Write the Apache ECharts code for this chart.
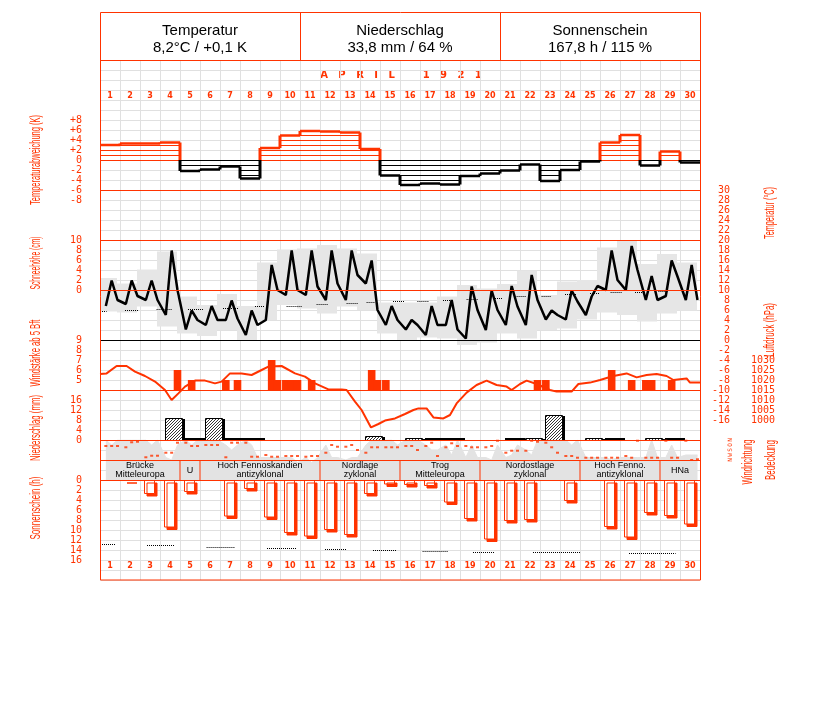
<!DOCTYPE html>
<html>
<head>
<meta charset="utf-8">
<title>April 1921</title>
<script src="https://cdn.jsdelivr.net/npm/echarts@6.0.0/dist/echarts.min.js"></script>
<style>
html,body{margin:0;padding:0;background:#fff;}
#chart{width:827px;height:702px;}
</style>
</head>
<body>
<div id="chart"></div>
<script>
const RED = '#ff3300';
const GRIDC = '#e0e0e0';

// ---------- data ----------
const days = ['1','2','3','4','5','6','7','8','9','10','11','12','13','14','15','16','17','18','19','20','21','22','23','24','25','26','27','28','29','30'];
const obsHours = [7, 14, 21];
const headerTitles = ['Temperatur', 'Niederschlag', 'Sonnenschein'];
const headerValues = ['8,2°C / +0,1 K', '33,8 mm / 64 %', '167,8 h / 115 %'];
const monthTitle = 'APRIL 1921';
const dirLabels = ['N', 'O', 'S', 'W', 'N'];

// Temperaturabweichung (K) per day
const tempDev = [3.0, 3.3, 3.3, 3.5, -2.2, -1.9, -1.3, -3.7, 2.4, 4.9, 5.8, 5.7, 5.5, 2.2, -3.1, -5.0, -4.7, -4.9, -3.2, -2.7, -2.1, -0.9, -4.2, -2.0, -0.3, 3.5, 5.0, -1.1, 1.7, -0.5];

// Temperatur (°C) at 7, 14, 21 h
const temp7  = [6.8, 7.2, 8.0, 5.0, 2.1, 3.0, 4.0, 1.0, 4.0, 9.0, 9.0, 8.0, 8.0, 11.3, 3.0, 2.1, 1.0, 3.0, 0.3, 2.0, 3.0, 3.0, 4.1, 4.1, 5.0, 10.0, 10.0, 8.0, 8.8, 8.0];
const temp14 = [11.9, 11.9, 11.9, 17.9, 5.9, 6.8, 7.9, 5.9, 15.0, 17.9, 17.9, 17.9, 17.9, 15.9, 6.8, 4.0, 6.8, 8.0, 10.7, 9.9, 10.8, 13.0, 5.9, 9.9, 8.7, 17.9, 18.8, 12.8, 15.9, 15.0];
const temp21 = [8.0, 8.8, 8.0, 10.0, 4.0, 4.0, 4.3, 3.0, 10.0, 10.0, 10.7, 11.3, 13.0, 6.0, 4.0, 3.0, 3.0, 2.1, 6.0, 6.0, 6.7, 8.0, 5.0, 7.7, 10.8, 12.0, 14.0, 8.0, 12.7, 8.0];
// daily max / min
const tempMax = [12.4, 11.3, 14.1, 17.7, 8.7, 7.0, 9.2, 6.8, 15.5, 18.1, 18.3, 19.0, 18.3, 17.3, 7.5, 7.5, 7.5, 8.7, 11.0, 10.3, 11.2, 13.9, 9.0, 11.7, 12.0, 18.5, 19.9, 15.2, 17.2, 15.5];
const tempMin = [5.7, 5.5, 6.7, 2.7, 1.3, 0.8, 2.0, 0.0, 4.0, 7.0, 6.3, 5.3, 6.7, 6.0, 1.3, -0.2, 0.5, 0.3, -1.0, -0.5, 1.3, 0.3, 2.0, 2.3, 4.1, 5.5, 5.0, 3.7, 5.3, 5.9];
// climatological mean (dotted segments): [fromDay, toDay, °C]
const tempClim = [[0, 0.33, 5.8], [1.25, 1.92, 6.0], [2.83, 3.58, 6.2], [4.4, 5.15, 6.3], [6.15, 6.9, 6.5], [7.75, 8.25, 6.8], [9.33, 10.08, 6.9], [10.83, 11.42, 7.2], [12.33, 12.92, 7.4], [13.33, 13.75, 7.7], [14.65, 15.2, 7.8], [15.87, 16.42, 7.9], [17.15, 17.65, 8.1], [18.33, 18.92, 8.3], [19.65, 20.15, 8.5], [20.83, 21.33, 8.8], [22.08, 22.58, 8.9], [23.25, 23.83, 9.2], [24.5, 25.0, 9.5], [25.53, 26.08, 9.6], [26.75, 27.15, 9.7], [27.92, 28.42, 9.9], [29.33, 29.75, 10.1]];

// Windstärke ab 5 Bft: [day, hour, Bft]
const windBft = [[4,21,6],[5,14,5],[7,7,5],[7,21,5],[9,14,7],[9,21,5],[10,7,5],[10,14,5],[10,21,5],[11,14,5],[14,14,6],[14,21,5],[15,7,5],[22,21,5],[23,7,5],[26,14,6],[27,14,5],[28,7,5],[28,14,5],[29,14,5]];

// Luftdruck (hPa): [day position, hPa]
const pressure = [[0,1023],[0.33,1023.3],[0.83,1027],[1.33,1027],[1.75,1024.2],[2.25,1022],[2.75,1019.2],[3.25,1015],[3.58,1010],[3.92,1013.3],[4.25,1016.7],[4.75,1019.7],[5.25,1019.7],[5.75,1018.3],[6.08,1019.2],[6.5,1023.3],[7.08,1023.3],[7.58,1022.5],[8.08,1025],[8.42,1026.7],[9.08,1027],[9.75,1023.3],[10.25,1021.7],[10.75,1018.3],[11.42,1015.3],[12.08,1015.3],[12.33,1015],[12.75,1009.2],[13.08,1005],[13.55,996.3],[13.92,998],[14.25,999.7],[14.75,1000.8],[15.25,1003],[15.67,1005],[15.92,1005.8],[16.33,1005.8],[16.67,1001.3],[17.17,1000.8],[17.5,1002.5],[17.83,1008.3],[18.33,1013.7],[18.83,1017.5],[19.33,1019.7],[19.83,1017.5],[20.33,1016.7],[20.58,1015],[21,1018],[21.33,1019.7],[21.83,1018],[22.5,1015],[22.83,1014.2],[23.58,1014.2],[23.92,1018],[24.5,1018.7],[25,1020],[25.67,1022],[26.33,1023.3],[26.83,1021.3],[27.33,1022.5],[27.83,1023],[28.33,1022],[28.67,1020],[29.33,1020.8],[29.5,1018.7],[30,1018.7]];

// Niederschlag (mm) per day, and days with trace only
const precip = [0, 0, 0, 9.0, 0, 9.0, 0, 0, 0, 0, 0, 0, 0, 1.6, 0, 1.0, 0, 0, 0, 0, 0, 1.0, 10.2, 0, 1.0, 0, 0, 1.0, 0, 0];
const precipTrace = [5, 6, 7, 8, 17, 18, 21, 26, 29];

// Windrichtung (degrees) at 7, 14, 21 h
const windDir7  = [108,131,311,229,49,90,311,49,270,288,301,229,121,229,131,108,108,131,108,131,229,193,49,288,319,319,288,319,13,13];
const windDir14 = [108,41,283,229,108,90,49,301,301,288,288,90,90,131,131,108,49,59,131,108,193,13,131,288,319,319,319,319,319,360];
const windDir21 = [108,31,283,49,108,90,49,301,301,288,288,121,180,131,131,180,288,108,131,13,193,31,229,319,319,319,13,319,319,347];

// Bedeckung (eighths) at 7, 14, 21 h
const cloud7  = [8, 8, 8, 4.5, 8, 8, 7, 8, 4.5, 4.5, 4.5, 7, 4, 7, 8, 8, 7, 7, 4.5, 4.5, 4.5, 6, 8, 8, 4.5, 4.5, 4.5, 4.5, 4.5, 5];
const cloud14 = [7, 8, 7, 4, 7, 8, 6, 7, 4.5, 4.5, 3.5, 4.5, 4.5, 8, 8, 8, 6, 5, 7, 4, 5, 5, 8, 7, 4.5, 4, 4.5, 8, 7, 5];
const cloud21 = [8, 8, 8, 7, 8, 8, 7, 4.5, 4.5, 3.5, 4.5, 4.5, 4.5, 8, 7, 8, 6, 8, 4.5, 7, 7, 8, 8, 8, 4.5, 4.5, 4.5, 4.5, 4.5, 5];

// Großwetterlagen: [fromDay, toDay, label]
const weatherTypes = [[0,4,'Brücke\nMitteleuropa'],[4,5,'U'],[5,11,'Hoch Fennoskandien\nantizyklonal'],[11,15,'Nordlage\nzyklonal'],[15,19,'Trog\nMitteleuropa'],[19,24,'Nordostlage\nzyklonal'],[24,28,'Hoch Fenno.\nantizyklonal'],[28,30,'HNa']];

// Sonnenschein (h) per day and climatological segments
const sunshine = [0, 0.2, 2.8, 9.5, 2.4, 0, 7.3, 1.8, 7.5, 10.6, 11.3, 10.0, 11.0, 2.8, 0.9, 1.0, 1.2, 4.5, 7.8, 11.9, 8.2, 8.0, 0, 4.2, 0, 9.4, 11.5, 6.6, 7.2, 8.9];
const sunClim = [[0, 0.79, 12.8], [2.35, 3.75, 13.0], [5.33, 6.75, 13.3], [8.35, 9.8, 13.5], [11.25, 12.35, 13.7], [13.65, 14.85, 13.9], [16.13, 17.38, 14.1], [18.65, 19.75, 14.3], [21.65, 24.0, 14.4], [26.45, 28.78, 14.6]];

// ---------- helpers ----------
function byObs(a7, a14, a21) {
  const out = [];
  for (let i = 0; i < a7.length; i++) {
    out.push([i + obsHours[0] / 24, a7[i]], [i + obsHours[1] / 24, a14[i]], [i + obsHours[2] / 24, a21[i]]);
  }
  return out;
}
function measure(text, font) {
  const c = document.createElement('canvas').getContext('2d');
  c.font = font;
  return c.measureText(text).width;
}
function vtext(text, cx, cy, len) {
  const font = '14px "Liberation Sans"';
  const w = measure(text, font);
  return {type: 'text', x: cx, y: cy, rotation: Math.PI / 2, scaleX: len / w, silent: true,
    style: {text: text, x: 0, y: 0, fill: RED, font: font, align: 'center', verticalAlign: 'middle', textAlign: 'center', textVerticalAlign: 'middle'}};
}
function htext(text, cx, cy, font, fill) {
  return {type: 'text', x: cx, y: cy, silent: true,
    style: {text: text, x: 0, y: 0, fill: fill, font: font, align: 'center', verticalAlign: 'middle', textAlign: 'center', textVerticalAlign: 'middle'}};
}
function hline(x1, y1, x2, y2) {
  return {type: 'line', silent: true, z: 100, shape: {x1: x1, y1: y1, x2: x2, y2: y2}, style: {stroke: RED, lineWidth: 1}};
}
function segItem(params, api) {
  const a = api.coord([api.value(0), api.value(2)]);
  const b = api.coord([api.value(1), api.value(2)]);
  const y = Math.round(a[1]) + 0.5;
  return {type: 'line', shape: {x1: a[0], y1: y, x2: b[0], y2: y}, style: {stroke: '#000', lineWidth: 1, lineDash: [1, 1]}};
}
const ruleStyle = {silent: true, symbol: ['none', 'none'], label: {show: false}, animation: false, emphasis: {disabled: true}};
function rules(list) {
  return Object.assign({}, ruleStyle, {data: list.map(r => ({yAxis: r[0], lineStyle: {color: r[1], type: 'solid', width: 1}}))});
}

// ---------- layout ----------
const gridDefs = [[60,520],[120,80],[190,230],[240,50],[340,50],[360,60],[400,40],[440,20],[440,40],[460,20],[480,80]];
const grid = gridDefs.map(g => ({left: 100, width: 600, top: g[0], height: g[1], containLabel: false, outerBoundsMode: 'none'}));

const xAxis = gridDefs.map((g, i) => ({
  type: 'value', gridIndex: i, min: 0, max: 30, interval: 1, show: i === 0,
  axisLine: {show: false, onZero: false}, axisTick: {show: false}, axisLabel: {show: false},
  splitLine: {show: i === 0, lineStyle: {color: GRIDC, width: 1}}
}));
function dayAxis(pos, off) {
  return {type: 'category', gridIndex: 0, data: days, position: pos, offset: off,
    axisLine: {show: false, onZero: false}, axisTick: {show: false}, splitLine: {show: false},
    axisLabel: {interval: 0, margin: 2, color: RED, fontSize: 8, fontWeight: 'bold', fontFamily: 'DejaVu Sans'}};
}
xAxis.push(dayAxis('top', -42), dayAxis('bottom', -20));

function yAx(gi, o) {
  return Object.assign({type: 'value', gridIndex: gi, axisLine: {show: false, onZero: false}, axisTick: {show: false},
    splitLine: {show: false}, axisLabel: {show: false}}, o);
}
function lab(extra) {
  return Object.assign({show: true, color: RED, fontFamily: 'DejaVu Sans Mono', fontSize: 10, showMinLabel: true, showMaxLabel: true,
    formatter: v => String(v)}, extra);
}
const yAxis = [
  yAx(0, {min: 0, max: 52, interval: 1, splitLine: {show: true, lineStyle: {color: GRIDC, width: 1}}}),
  yAx(1, {min: -8, max: 8, interval: 2, position: 'left', axisLabel: lab({margin: 18, formatter: v => v > 0 ? '+' + v : String(v)})}),
  yAx(2, {min: -16, max: 30, interval: 2, position: 'right', axisLabel: lab({margin: 30, align: 'right'})}),
  yAx(3, {min: 0, max: 10, interval: 2, position: 'left', axisLabel: lab({margin: 18})}),
  yAx(4, {min: 4, max: 9, interval: 1, position: 'left', axisLabel: lab({margin: 18, formatter: v => v === 4 ? '' : String(v)})}),
  yAx(5, {min: 1000, max: 1030, interval: 5, position: 'right', axisLabel: lab({margin: 75, align: 'right'})}),
  yAx(6, {min: 0, max: 16, interval: 4, position: 'left', axisLabel: lab({margin: 18})}),
  yAx(7, {min: 0, max: 360, interval: 90, inverse: true, position: 'right', axisLabel: lab({margin: 27, fontSize: 6, rotate: 90, formatter: v => dirLabels[Math.round(v / 90)]})}),
  yAx(8, {min: 0, max: 8, show: false}),
  yAx(9, {min: 0, max: 1, show: false}),
  yAx(10, {min: 0, max: 16, interval: 2, inverse: true, position: 'left', axisLabel: lab({margin: 18})})
];

// ---------- series ----------
const series = [];

// daily range (grey)
series.push({type: 'custom', xAxisIndex: 2, yAxisIndex: 2, silent: true, z: 1,
  data: tempMax.map((mx, i) => [i, tempMin[i], mx]), encode: {x: 0, y: [1, 2]},
  renderItem: function (params, api) {
    const i = api.value(0);
    const a = api.coord([i - 0.15, api.value(2)]);
    const b = api.coord([i + 0.85, api.value(1)]);
    const cs = params.coordSys;
    const xL = Math.max(a[0], cs.x), xR = Math.min(b[0], cs.x + cs.width);
    return {type: 'rect', shape: {x: xL, y: a[1], width: xR - xL, height: b[1] - a[1]}, style: {fill: '#e6e6e6'}};
  }});
// climatological temperature
series.push({type: 'custom', xAxisIndex: 2, yAxisIndex: 2, silent: true, z: 2, data: tempClim, encode: {x: [0, 1], y: 2}, renderItem: segItem});
// temperature curve
series.push({type: 'line', xAxisIndex: 2, yAxisIndex: 2, data: byObs(temp7, temp14, temp21), symbol: 'none', silent: true, z: 4,
  lineStyle: {color: '#000', width: 2.5}, markLine: rules([[30, RED], [20, RED], [10, RED], [0, '#000']])});

// temperature deviation
series.push({type: 'custom', xAxisIndex: 1, yAxisIndex: 1, silent: true, z: 3,
  data: tempDev.map((v, i) => [i, v]), encode: {x: 0, y: 1},
  renderItem: function (params, api) {
    const i = api.value(0), v = api.value(1);
    const children = [];
    const x0 = api.coord([i, 0])[0], x1 = api.coord([i + 1, 0])[0];
    const col = v >= 0 ? RED : '#000';
    const n = Math.floor(Math.abs(v));
    const s = v >= 0 ? 1 : -1;
    for (let k = 0; k <= n; k++) {
      const y = Math.round(api.coord([i, s * k])[1]) + 0.5;
      children.push({type: 'line', shape: {x1: x0, y1: y, x2: x1, y2: y}, style: {stroke: col, lineWidth: 1}});
    }
    const yv = api.coord([i, v])[1];
    children.push({type: 'line', shape: {x1: x0, y1: yv, x2: x1, y2: yv}, style: {stroke: col, lineWidth: 2.5}});
    if (i > 0) {
      const p = tempDev[i - 1];
      const yp = api.coord([i, p])[1];
      const y0 = api.coord([i, 0])[1];
      if (p * v < 0) {
        children.push({type: 'line', shape: {x1: x0, y1: yp, x2: x0, y2: y0}, style: {stroke: p > 0 ? RED : '#000', lineWidth: 3}});
        children.push({type: 'line', shape: {x1: x0, y1: y0, x2: x0, y2: yv}, style: {stroke: col, lineWidth: 3}});
      } else {
        children.push({type: 'line', shape: {x1: x0, y1: yp, x2: x0, y2: yv}, style: {stroke: col, lineWidth: 3}});
      }
    }
    return {type: 'group', children: children};
  }});

// cloud cover
series.push({type: 'line', xAxisIndex: 8, yAxisIndex: 8, data: byObs(cloud7, cloud14, cloud21), symbol: 'none', silent: true, z: 1,
  lineStyle: {color: '#e3e3e3', width: 1}, areaStyle: {color: '#e3e3e3', opacity: 1}, markLine: rules([[4, RED]])});
// wind direction
series.push({type: 'scatter', xAxisIndex: 7, yAxisIndex: 7, data: byObs(windDir7, windDir14, windDir21), symbol: 'rect', symbolSize: [3, 2],
  silent: true, z: 5, itemStyle: {color: RED}});

// wind force bars
series.push({type: 'custom', xAxisIndex: 4, yAxisIndex: 4, silent: true, z: 3,
  data: windBft.map(w => [w[0] - 1 + w[1] / 24, w[2]]), encode: {x: 0, y: 1},
  renderItem: function (params, api) {
    const x = api.value(0), b = api.value(1);
    const p1 = api.coord([x - 0.19, b]), p2 = api.coord([x + 0.19, 4]);
    return {type: 'rect', shape: {x: p1[0], y: p1[1], width: p2[0] - p1[0], height: p2[1] - p1[1]}, style: {fill: RED}};
  }});
// pressure
series.push({type: 'line', xAxisIndex: 5, yAxisIndex: 5, data: pressure, symbol: 'none', silent: true, clip: false, z: 4,
  lineStyle: {color: RED, width: 2}, markLine: rules([[1015, RED]])});

// precipitation (hatched bars with black shadow)
series.push({type: 'custom', xAxisIndex: 6, yAxisIndex: 6, silent: true, z: 3,
  data: precip.map((v, i) => [i, v]).filter(d => d[1] > 0), encode: {x: 0, y: 1},
  renderItem: function (params, api) {
    const i = api.value(0), v = api.value(1);
    const a = api.coord([i + 0.25, v]), b = api.coord([i + 1.1, 0]);
    const x0 = Math.round(a[0]), y0 = Math.round(a[1]), x1 = Math.round(b[0]), y1 = Math.round(b[1]);
    const children = [
      {type: 'rect', shape: {x: x0 + 3, y: y0 + 1, width: x1 - x0, height: y1 - y0 - 1}, style: {fill: '#000'}},
      {type: 'rect', shape: {x: x0 + 0.5, y: y0 + 0.5, width: x1 - x0, height: y1 - y0}, style: {fill: '#fff', stroke: '#000', lineWidth: 1}}
    ];
    for (let c = x0 + y0 + 3; c < x1 + y1; c += 3) {
      const xa = Math.max(x0 + 1, c - y1), xb = Math.min(x1, c - y0 - 1);
      if (xb > xa) children.push({type: 'line', shape: {x1: xa, y1: c - xa, x2: xb, y2: c - xb}, style: {stroke: '#000', lineWidth: 0.8}});
    }
    return {type: 'group', children: children};
  },
  markLine: rules([[0, RED]])});
series.push({type: 'custom', xAxisIndex: 6, yAxisIndex: 6, silent: true, z: 2,
  data: precipTrace.map(d => [d - 0.75, d + 0.25, 0]), encode: {x: [0, 1], y: 2},
  renderItem: function (params, api) {
    const a = api.coord([api.value(0), 0]), b = api.coord([api.value(1), 0]);
    return {type: 'line', shape: {x1: a[0], y1: a[1] - 1, x2: b[0], y2: b[1] - 1}, style: {stroke: '#000', lineWidth: 2}};
  }});

// weather types
series.push({type: 'custom', xAxisIndex: 9, yAxisIndex: 9, silent: true, z: 6,
  data: weatherTypes.map(w => [w[0], w[1]]), encode: {x: [0, 1]},
  renderItem: function (params, api) {
    const x0 = api.value(0), x1 = api.value(1);
    const a = api.coord([x0, 1]), b = api.coord([x1, 0]);
    const children = [{type: 'text', style: {text: weatherTypes[params.dataIndex][2], x: (a[0] + b[0]) / 2, y: (a[1] + b[1]) / 2 + 0.5,
      align: 'center', verticalAlign: 'middle', textAlign: 'center', textVerticalAlign: 'middle',
      fontSize: 9, fontFamily: 'Liberation Sans', lineHeight: 9, fill: '#000'}}];
    if (x1 < 30) children.push({type: 'line', shape: {x1: b[0], y1: a[1], x2: b[0], y2: b[1]}, style: {stroke: RED, lineWidth: 1}});
    return {type: 'group', children: children};
  }});

// sunshine
series.push({type: 'bar', xAxisIndex: 10, yAxisIndex: 10, barWidth: 11, silent: true, z: 3,
  data: sunshine.map((v, i) => [i + 0.475, v]).filter(d => d[1] > 0),
  itemStyle: {color: '#fff', borderColor: RED, borderWidth: 1, shadowColor: RED, shadowOffsetX: 2.5, shadowOffsetY: 2.5, shadowBlur: 0},
  markLine: rules([[0, RED]])});
series.push({type: 'custom', xAxisIndex: 10, yAxisIndex: 10, silent: true, z: 4, data: sunClim, encode: {x: [0, 1], y: 2}, renderItem: segItem});

// ---------- graphic (frame & texts) ----------
const graphic = [
  {type: 'rect', silent: true, z: 100, shape: {x: 100.5, y: 12.5, width: 600, height: 567.5}, style: {fill: 'none', stroke: RED, lineWidth: 1}},
  hline(100, 60.5, 700, 60.5), hline(300.5, 12, 300.5, 60), hline(500.5, 12, 500.5, 60)
];
headerTitles.forEach((t, k) => {
  graphic.push(htext(t, 200 + 200 * k, 31, '15px "Liberation Sans"', '#000'));
  graphic.push(htext(headerValues[k], 200 + 200 * k, 48, '15px "Liberation Sans"', '#000'));
});
graphic.push(htext(monthTitle.split('').map(c => c === ' ' ? '  ' : c).join('   '), 401, 75, 'bold 10px "DejaVu Sans"', RED));
graphic.push(
  vtext('Temperaturabweichung (K)', 36, 160, 90),
  vtext('Schneehöhe (cm)', 36, 263, 53),
  vtext('Windstärke ab 5 Bft', 36, 353, 67),
  vtext('Niederschlag (mm)', 36, 428, 66),
  vtext('Sonnenschein (h)', 36, 508, 63),
  vtext('Temperatur (°C)', 770, 213, 52),
  vtext('Luftdruck (hPa)', 770, 330, 54),
  vtext('Windrichtung', 748, 462, 45),
  vtext('Bedeckung', 771, 460, 40)
);

const chart = echarts.init(document.getElementById('chart'), null, {renderer: 'canvas'});
chart.setOption({
  animation: false,
  backgroundColor: '#fff',
  grid: grid,
  xAxis: xAxis,
  yAxis: yAxis,
  series: series,
  graphic: graphic
});
</script>
</body>
</html>
